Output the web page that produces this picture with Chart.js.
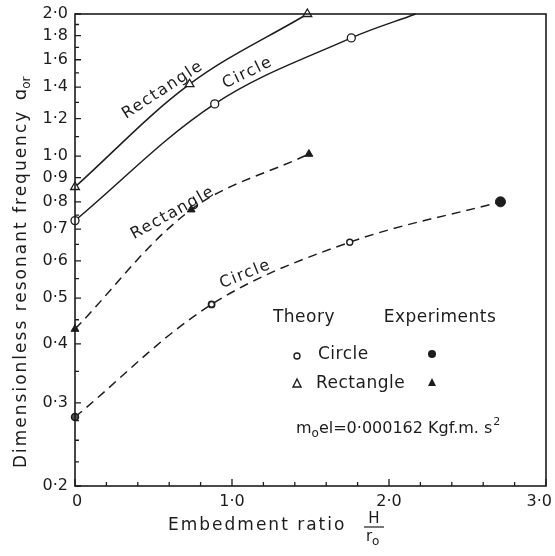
<!DOCTYPE html>
<html><head><meta charset="utf-8">
<script src="https://cdn.jsdelivr.net/npm/chart.js@4/dist/chart.umd.min.js"></script>
<style>html,body{margin:0;padding:0;background:#fff}canvas{display:block}</style>
</head><body>
<canvas id="c" width="555" height="556" style="width:555px;height:556px"></canvas>
<script>
// ---- data ----
const yTickLabels = [0.2, 0.3, 0.4, 0.5, 0.6, 0.7, 0.8, 0.9, 1.0, 1.2, 1.4, 1.6, 1.8, 2.0];
const yMinorTicks = [0.225, 0.25, 0.275, 0.35, 0.45, 0.55, 0.65, 0.75, 1.1, 1.3, 1.5, 1.7, 1.9];
const xTickLabels = [0, 1, 2, 3];
const xMinorTicks = [0.2, 0.4, 0.6, 0.8, 1.2, 1.4, 1.6, 1.8, 2.2, 2.4, 2.6, 2.8];

// Theory (solid) curves
const rectTheoryX = [0, 0.73, 1.48];
const rectTheoryY = [0.86, 1.42, 2.0];
const circTheoryX = [0, 0.89, 1.76, 2.17];
const circTheoryY = [0.73, 1.29, 1.78, 2.0];
// Experiment (dashed) curves
const rectExpX = [0, 0.74, 1.49];
const rectExpY = [0.43, 0.77, 1.01];
const circExpX = [0, 0.87, 1.75, 2.71];
const circExpY = [0.28, 0.485, 0.657, 0.80];

const INK = '#1c1c1c';
const FONT = "'DejaVu Sans', sans-serif";

function pts(xs, ys) { return xs.map((x, i) => ({ x: x, y: ys[i] })); }
function fmt(v) { return v === 0 ? '0' : Number(v).toFixed(1).replace('.', '\u00B7'); }

const overlay = {
  id: 'overlay',
  afterDraw(chart) {
    const ctx = chart.ctx, a = chart.chartArea;
    const xs = chart.scales.x, ys = chart.scales.y;
    ctx.save();
    ctx.strokeStyle = INK; ctx.fillStyle = INK;
    // frame
    ctx.lineWidth = 1.6;
    ctx.strokeRect(a.left, a.top, a.right - a.left, a.bottom - a.top);
    // inward ticks
    ctx.lineWidth = 1.3;
    ctx.beginPath();
    yTickLabels.forEach(v => { const y = ys.getPixelForValue(v); ctx.moveTo(a.left, y); ctx.lineTo(a.left + 6, y); });
    yMinorTicks.forEach(v => { const y = ys.getPixelForValue(v); ctx.moveTo(a.left, y); ctx.lineTo(a.left + 4, y); });
    xTickLabels.forEach(v => { const x = xs.getPixelForValue(v); ctx.moveTo(x, a.bottom); ctx.lineTo(x, a.bottom - 7); });
    xMinorTicks.forEach(v => { const x = xs.getPixelForValue(v); ctx.moveTo(x, a.bottom); ctx.lineTo(x, a.bottom - 4); });
    ctx.stroke();

    // x tick labels
    ctx.font = '16px ' + FONT; ctx.textBaseline = 'middle';
    xTickLabels.forEach((v, i) => {
      const last = i === xTickLabels.length - 1;
      ctx.textAlign = last ? 'right' : 'center';
      ctx.fillText(fmt(v), xs.getPixelForValue(v) + (last ? 6 : (i === 0 ? 2 : 0)), a.bottom + 16);
    });

    // curve labels (anchored in data coordinates, lifted above the curve)
    function curveLabel(text, xv, yv, deg, lift) {
      ctx.save();
      ctx.translate(xs.getPixelForValue(xv), ys.getPixelForValue(yv));
      ctx.rotate(deg * Math.PI / 180);
      ctx.font = '16px ' + FONT;
      ctx.letterSpacing = '1.5px';
      ctx.textAlign = 'center'; ctx.textBaseline = 'middle';
      ctx.fillText(text, 0, -lift);
      ctx.restore();
    }
    curveLabel('Rectangle', 0.56, 1.38, -33, 0);
    curveLabel('Circle', 1.10, 1.50, -26, 0);
    curveLabel('Rectangle', 0.66, 0.72, -29, 12);
    curveLabel('Circle', 1.09, 0.557, -22, 2);

    // legend block
    ctx.letterSpacing = '0.5px';
    ctx.font = '17px ' + FONT;
    ctx.textAlign = 'center'; ctx.textBaseline = 'middle';
    ctx.fillText('Theory', 304, 318);
    ctx.fillText('Experiments', 440, 318);
    ctx.textAlign = 'left';
    ctx.fillText('Circle', 318, 355);
    ctx.fillText('Rectangle', 316, 384);
    // symbols
    ctx.lineWidth = 1.4;
    ctx.beginPath(); ctx.arc(297, 356, 3, 0, Math.PI * 2); ctx.fillStyle = '#fff'; ctx.fill(); ctx.stroke();
    ctx.fillStyle = INK;
    ctx.beginPath(); ctx.arc(432, 354, 4, 0, Math.PI * 2); ctx.fill();
    ctx.beginPath(); ctx.moveTo(297, 379); ctx.lineTo(301, 387); ctx.lineTo(293, 387); ctx.closePath(); ctx.stroke();
    ctx.beginPath(); ctx.moveTo(432, 378); ctx.lineTo(436, 386); ctx.lineTo(428, 386); ctx.closePath(); ctx.fill();

    // mass note
    ctx.letterSpacing = '0px';
    ctx.textBaseline = 'alphabetic'; ctx.textAlign = 'left';
    let x = 296; const base = 433;
    ctx.font = '16px ' + FONT; ctx.fillText('m', x, base); x += ctx.measureText('m').width;
    ctx.font = '12px ' + FONT; ctx.fillText('o', x, base + 4); x += ctx.measureText('o').width;
    ctx.font = '16px ' + FONT; const t = 'el=0\u00B7000162 Kgf.m. s'; ctx.fillText(t, x, base); x += ctx.measureText(t).width;
    ctx.font = '11px ' + FONT; ctx.fillText('2', x + 1, base - 8);

    // x axis title
    ctx.font = '17px ' + FONT; ctx.letterSpacing = '2px';
    ctx.fillText('Embedment ratio', 168, 530);
    ctx.letterSpacing = '0px';
    ctx.textAlign = 'center';
    ctx.font = '15px ' + FONT;
    ctx.fillText('H', 374, 523);
    ctx.lineWidth = 1.2;
    ctx.beginPath(); ctx.moveTo(364, 527); ctx.lineTo(384, 527); ctx.stroke();
    ctx.textAlign = 'left';
    ctx.fillText('r', 366, 541);
    ctx.font = '12px ' + FONT; ctx.fillText('o', 372, 545);

    // y axis title (rotated)
    ctx.save();
    ctx.translate(26, 468);
    ctx.rotate(-Math.PI / 2);
    ctx.textAlign = 'left'; ctx.textBaseline = 'alphabetic';
    ctx.font = '17px ' + FONT; ctx.letterSpacing = '2px';
    const yt = 'Dimensionless resonant frequency ';
    ctx.fillText(yt, 0, 0);
    let p = ctx.measureText(yt).width + 2;
    ctx.letterSpacing = '0px';
    ctx.font = '18px ' + FONT; ctx.fillText('\u0251', p, 0); p += ctx.measureText('\u0251').width;
    ctx.font = '12px ' + FONT; ctx.fillText('or', p, 4);
    ctx.restore();

    ctx.restore();
  }
};

const common = { borderColor: INK, borderWidth: 1.5, showLine: true, tension: 0.35, clip: false, pointBorderColor: INK };

new Chart(document.getElementById('c'), {
  type: 'scatter',
  data: {
    datasets: [
      Object.assign({}, common, { label: 'Rectangle theory', data: pts(rectTheoryX, rectTheoryY),
        pointStyle: 'triangle', pointRadius: 5, pointBackgroundColor: '#fff', pointBorderWidth: 1.3 }),
      Object.assign({}, common, { label: 'Circle theory', data: pts(circTheoryX, circTheoryY),
        pointStyle: 'circle', pointRadius: [4, 4, 4, 0], pointBackgroundColor: '#fff', pointBorderWidth: 1.3 }),
      Object.assign({}, common, { label: 'Rectangle experiment', data: pts(rectExpX, rectExpY), borderDash: [9, 6],
        pointStyle: 'triangle', pointRadius: 4.5, pointBackgroundColor: INK, pointBorderWidth: 1 }),
      Object.assign({}, common, { label: 'Circle experiment', data: pts(circExpX, circExpY), borderDash: [9, 6],
        pointStyle: 'circle', pointRadius: [3.5, 3, 3, 5], pointBackgroundColor: ['#555', '#fff', '#fff', INK],
        pointBorderWidth: [1.5, 1.8, 1.4, 1] })
    ]
  },
  options: {
    responsive: false,
    animation: false,
    devicePixelRatio: 1,
    layout: { padding: { top: 14, right: 9, left: 0, bottom: 0 } },
    plugins: { legend: { display: false }, tooltip: { enabled: false } },
    scales: {
      x: {
        type: 'linear', min: 0, max: 3,
        grid: { display: false, drawTicks: false },
        border: { display: false },
        ticks: { display: false, autoSkip: false, maxRotation: 0 },
        afterBuildTicks: s => { s.ticks = xTickLabels.map(v => ({ value: v })); },
        afterFit: s => { s.height = 70; s.paddingLeft = 0; s.paddingRight = 0; }
      },
      y: {
        type: 'logarithmic', min: 0.2, max: 2.0,
        grid: { display: false, drawTicks: false },
        border: { display: false },
        ticks: { padding: 7, autoSkip: false, color: INK, font: { family: FONT, size: 16 }, callback: v => fmt(v) },
        afterBuildTicks: s => { s.ticks = yTickLabels.map(v => ({ value: v })); },
        afterFit: s => { s.width = 75; s.paddingTop = 0; s.paddingBottom = 0; }
      }
    }
  },
  plugins: [overlay]
});
</script>
</body></html>
